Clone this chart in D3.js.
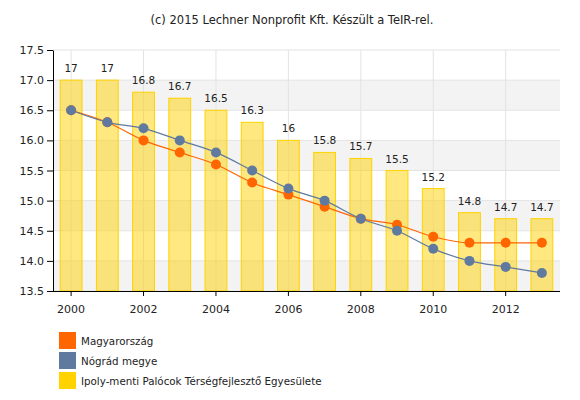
<!DOCTYPE html>
<html><head><meta charset="utf-8">
<script src="https://cdn.jsdelivr.net/npm/d3@7"></script>
<style>body{margin:0;background:#fff}svg{display:block;font-family:"DejaVu Sans",Verdana,sans-serif}</style>
</head><body><svg id="c" width="580" height="400"></svg>
<script>
const years = [2000,2001,2002,2003,2004,2005,2006,2007,2008,2009,2010,2011,2012,2013];
const ipoly = [17,17,16.8,16.7,16.5,16.3,16,15.8,15.7,15.5,15.2,14.8,14.7,14.7];
const magyar = [16.5,16.3,16.0,15.8,15.6,15.3,15.1,14.9,14.7,14.6,14.4,14.3,14.3,14.3];
const nograd = [16.5,16.3,16.2,16.0,15.8,15.5,15.2,15.0,14.7,14.5,14.2,14.0,13.9,13.8];
const yTicks = [13.5,14.0,14.5,15.0,15.5,16.0,16.5,17.0,17.5];
const xTickYears = [2000,2002,2004,2006,2008,2010,2012];
const seriesNames = ["Magyarország","Nógrád megye","Ipoly-menti Palócok Térségfejlesztő Egyesülete"];
const colors = ["#FF6600","#5F7A9E","#FFD200"];
const title = "(c) 2015 Lechner Nonprofit Kft. Készült a TeIR-rel.";

const svg = d3.select("#c");
const L=53, R=560, T=50, B=291;
const x = d3.scaleBand().domain(years).range([L,R]).paddingInner(0.37).paddingOuter(0.185);
const xc = d => x(d)+x.bandwidth()/2;
const y = d3.scaleLinear().domain([13.5,17.5]).range([B,T]);

svg.append("text").attr("x",292).attr("y",24).attr("text-anchor","middle")
  .attr("font-size","11.5px").attr("fill","#222").text(title);

// bands
const g = svg.append("g");
for(let i=0;i<yTicks.length-1;i++){
  if(i%2===0) g.append("rect").attr("x",L).attr("width",R-L)
    .attr("y",y(yTicks[i+1])).attr("height",y(yTicks[i])-y(yTicks[i+1])).attr("fill","#f3f3f3");
}
// grid
g.selectAll(".hg").data(yTicks).join("line").attr("x1",L).attr("x2",R)
  .attr("y1",d=>y(d)).attr("y2",d=>y(d)).attr("stroke","#e3e3e3");
g.selectAll(".vg").data(xTickYears).join("line").attr("x1",d=>xc(d)).attr("x2",d=>xc(d))
  .attr("y1",T).attr("y2",B).attr("stroke","#e3e3e3");

// bars
svg.selectAll(".bar").data(years).join("rect")
  .attr("x",d=>x(d)+0.5).attr("width",x.bandwidth()-1)
  .attr("y",(d,i)=>y(ipoly[i])).attr("height",(d,i)=>B-y(ipoly[i]))
  .attr("fill","rgba(255,210,0,0.5)").attr("stroke","#FFD200").attr("stroke-width",1);
svg.selectAll(".bl").data(years).join("text")
  .attr("x",d=>xc(d)).attr("y",(d,i)=>y(ipoly[i])-8).attr("text-anchor","middle")
  .attr("font-size","10.5px").attr("fill","#222").text((d,i)=>ipoly[i]);

// lines
const line = d3.line().x((d,i)=>xc(years[i])).y(d=>y(d)).curve(d3.curveMonotoneX);
[[magyar,colors[0]],[nograd,colors[1]]].forEach(([data,col])=>{
  svg.append("path").attr("d",line(data)).attr("fill","none").attr("stroke",col).attr("stroke-width",1.2);
});
[[magyar,colors[0]],[nograd,colors[1]]].forEach(([data,col])=>{
  svg.append("g").selectAll("circle").data(data).join("circle")
    .attr("cx",(d,i)=>xc(years[i])).attr("cy",d=>y(d)).attr("r",5).attr("fill",col);
});

// axes
const ya = svg.append("g").attr("transform",`translate(${L},0)`)
  .call(d3.axisLeft(y).tickValues(yTicks).tickFormat(d3.format(".1f")).tickSize(6).tickSizeOuter(0));
const xa = svg.append("g").attr("transform",`translate(0,${B})`)
  .call(d3.axisBottom(x).tickValues(xTickYears).tickSize(5).tickSizeOuter(0));
[ya,xa].forEach(a=>{
  a.select(".domain").attr("stroke","#000");
  a.selectAll(".tick line").attr("stroke","#000");
  a.selectAll("text").attr("font-size","11px").attr("fill","#222").attr("font-family","DejaVu Sans");
});
xa.selectAll("text").attr("dy","1.3em");
xa.select(".domain").attr("d",`M${L},0.5H${R}`);

// legend
const lg = svg.append("g");
seriesNames.forEach((n,i)=>{
  lg.append("rect").attr("x",59).attr("y",332+i*20).attr("width",17).attr("height",17).attr("fill",colors[i]);
  lg.append("text").attr("x",81).attr("y",344.5+i*20).attr("font-size","10.3px").attr("fill","#222").text(n);
});
</script></body></html>
